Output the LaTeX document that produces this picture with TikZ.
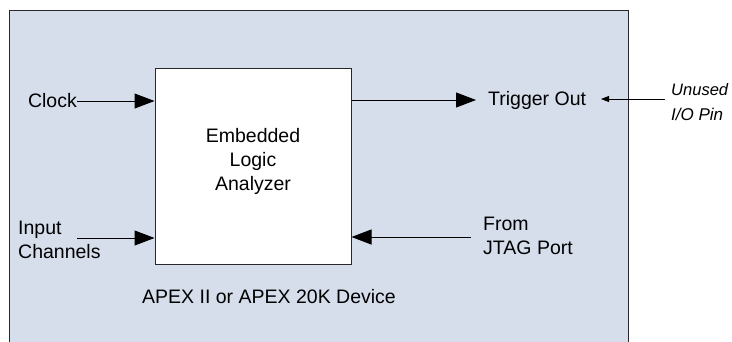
\documentclass[tikz,border=0pt]{standalone}
\usepackage{fontspec}
\usepackage{graphicx}
\setmainfont{Liberation Sans}
\usetikzlibrary{arrows.meta}
\definecolor{devfill}{RGB}{214,222,236}
\definecolor{edge}{RGB}{40,40,40}
\tikzset{
  lbl/.style={inner sep=0pt, font=\fontsize{19.5}{24}\selectfont, align=left},
  note/.style={inner sep=0pt, font=\fontsize{18}{25}\selectfont\itshape, align=left},
  bigarrow/.style={draw=black, line width=1pt, -{Triangle[length=20pt,width=15pt]}},
  smallarrow/.style={draw=black, line width=0.9pt, -{Triangle[length=8pt,width=6pt]}}
}
\begin{document}
\begin{tikzpicture}[x=1pt,y=-1pt]
\useasboundingbox (0,0) rectangle (732,341);
\begin{scope}
\clip (0,0) rectangle (732,341);
\draw[edge, line width=1pt, fill=devfill] (9,10) rectangle (628,360);
\end{scope}
\node[draw=edge, line width=1pt, fill=white, minimum width=196pt, minimum height=196pt, inner sep=0pt] (ela) at (253,166) {};
\node[lbl, align=center] (elatext) at (253,161) {Embedded\\Logic\\Analyzer};
\node[lbl, anchor=east] (clock) at (77,101) {Clock};
\node[lbl, anchor=west] (input) at (18,240) {Input\\Channels};
\coordinate (inStart) at (77,238);
\node[lbl, anchor=west] (trig) at (488,100) {Trigger Out};
\coordinate (trigEnd) at (476,100);
\node[lbl, anchor=west] (jtag) at (483,236) {From\\JTAG Port};
\coordinate (jtagStart) at (471,237);
\node[note, anchor=west] (unused) at (671,102) {\resizebox{57pt}{!}{Unused}\\\resizebox{52pt}{!}{I/O Pin}};
\coordinate (pinStart) at (665,99);
\coordinate (pinEnd) at (601,99);
\node[lbl] (dev) at (269,297) {APEX II or APEX 20K Device};
\draw[bigarrow] (clock.east) -- (ela.west |- clock.east);
\draw[bigarrow] (inStart) -- (ela.west |- inStart);
\draw[bigarrow] (ela.east |- trigEnd) -- (trigEnd);
\draw[bigarrow] (jtagStart) -- (ela.east |- jtagStart);
\draw[smallarrow] (pinStart) -- (pinEnd);
\end{tikzpicture}
\end{document}
